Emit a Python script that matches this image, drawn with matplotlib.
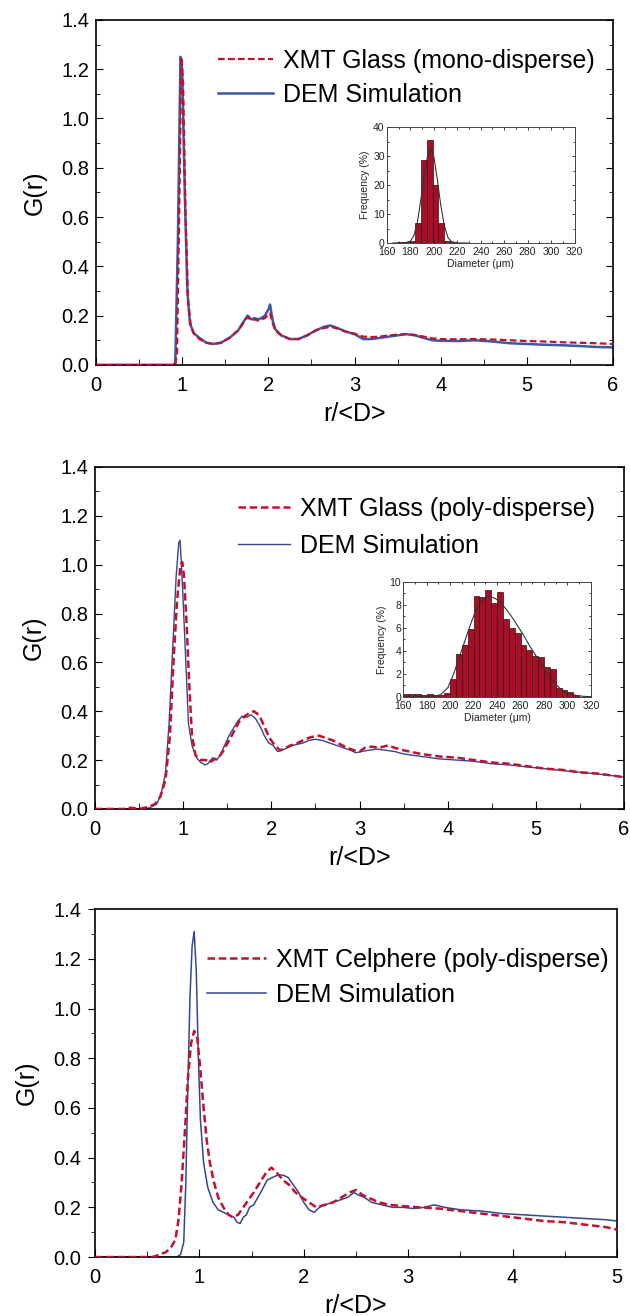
import numpy as np
import matplotlib
matplotlib.use("Agg")
from matplotlib import pyplot as plt
from matplotlib.ticker import MultipleLocator

plt.rcParams['font.family'] = ['Liberation Sans', 'DejaVu Sans']

# ---- data ----
# panel 1: mono-disperse glass
r1_dem = [0, 0.90, 0.92, 0.95, 0.98, 1.0, 1.03, 1.06, 1.09, 1.13, 1.2, 1.28, 1.36, 1.45, 1.55,
          1.65, 1.72, 1.76, 1.8, 1.84, 1.88, 1.92, 1.96, 2.0, 2.02, 2.05, 2.08, 2.15, 2.25, 2.35,
          2.45, 2.55, 2.65, 2.72, 2.8, 2.9, 3.0, 3.1, 3.2, 3.3, 3.4, 3.5, 3.6, 3.7, 3.8, 3.9,
          4.0, 4.2, 4.4, 4.6, 4.8, 5.0, 5.2, 5.4, 5.6, 5.8, 6.0]
g1_dem = [0, 0, 0.01, 0.5, 1.25, 1.2, 0.7, 0.3, 0.17, 0.13, 0.11, 0.09, 0.085, 0.09, 0.11,
          0.14, 0.18, 0.2, 0.185, 0.19, 0.185, 0.19, 0.2, 0.225, 0.245, 0.18, 0.145, 0.12, 0.105, 0.105,
          0.12, 0.14, 0.155, 0.16, 0.15, 0.135, 0.125, 0.105, 0.105, 0.11, 0.115, 0.12, 0.125, 0.12, 0.11, 0.1,
          0.098, 0.097, 0.1, 0.095, 0.088, 0.085, 0.082, 0.08, 0.077, 0.073, 0.071]
r1_xmt = [0, 0.92, 0.94, 0.965, 0.99, 1.01, 1.04, 1.07, 1.1, 1.14, 1.2, 1.28, 1.36, 1.45, 1.55,
          1.65, 1.72, 1.76, 1.8, 1.84, 1.88, 1.92, 1.96, 2.0, 2.02, 2.05, 2.08, 2.15, 2.25, 2.35,
          2.45, 2.55, 2.65, 2.72, 2.8, 2.9, 3.0, 3.1, 3.2, 3.3, 3.4, 3.5, 3.6, 3.7, 3.8, 3.9,
          4.0, 4.2, 4.4, 4.6, 4.8, 5.0, 5.2, 5.4, 5.6, 5.8, 6.0]
g1_xmt = [0, 0, 0.05, 0.6, 1.25, 1.15, 0.6, 0.25, 0.16, 0.125, 0.105, 0.09, 0.085, 0.09, 0.11,
          0.14, 0.175, 0.195, 0.18, 0.185, 0.18, 0.185, 0.19, 0.205, 0.21, 0.17, 0.14, 0.12, 0.105, 0.105,
          0.12, 0.14, 0.15, 0.155, 0.148, 0.135, 0.127, 0.115, 0.113, 0.115, 0.12, 0.123, 0.125, 0.122, 0.115, 0.108,
          0.105, 0.104, 0.105, 0.103, 0.1, 0.097, 0.095, 0.092, 0.09, 0.088, 0.085]

# panel 2: poly-disperse glass
r2_dem = [0, 0.55, 0.62, 0.7, 0.75, 0.8, 0.84, 0.88, 0.92, 0.95, 0.965, 0.98, 1.0, 1.03, 1.06, 1.1,
          1.15, 1.2, 1.25, 1.28, 1.31, 1.34, 1.38, 1.42, 1.47, 1.52, 1.57, 1.62, 1.67, 1.72, 1.77,
          1.82, 1.87, 1.92, 1.97, 2.02, 2.07, 2.12, 2.18, 2.24, 2.3, 2.36, 2.42, 2.5, 2.58, 2.66,
          2.74, 2.82, 2.9, 2.96, 3.02, 3.1, 3.2, 3.3, 3.4, 3.5, 3.7, 3.9, 4.1, 4.3, 4.5, 4.7,
          4.9, 5.1, 5.3, 5.5, 5.7, 5.9, 6.0]
g2_dem = [0, 0, 0.005, 0.02, 0.06, 0.15, 0.35, 0.65, 0.95, 1.09, 1.1, 1.0, 0.85, 0.6, 0.35, 0.26,
          0.21, 0.19, 0.18, 0.185, 0.2, 0.21, 0.2, 0.22, 0.26, 0.3, 0.33, 0.36, 0.38, 0.375, 0.385,
          0.37, 0.34, 0.3, 0.27, 0.26, 0.235, 0.24, 0.25, 0.26, 0.265, 0.27, 0.28, 0.285, 0.28, 0.27,
          0.26, 0.25, 0.24, 0.23, 0.235, 0.24, 0.245, 0.24, 0.235, 0.225, 0.215, 0.205, 0.2, 0.195, 0.185, 0.18,
          0.172, 0.165, 0.157, 0.15, 0.143, 0.135, 0.13]
r2_xmt = [0, 0.32, 0.4, 0.5, 0.6, 0.68, 0.74, 0.8, 0.85, 0.89, 0.93, 0.97, 0.99, 1.01, 1.04, 1.07,
          1.1, 1.14, 1.2, 1.26, 1.3, 1.34, 1.4, 1.46, 1.52, 1.58, 1.64, 1.7, 1.76, 1.8, 1.84,
          1.88, 1.93, 1.98, 2.04, 2.1, 2.16, 2.22, 2.3, 2.38, 2.46, 2.54, 2.62, 2.7, 2.78, 2.86,
          2.94, 3.0, 3.06, 3.14, 3.22, 3.32, 3.4, 3.5, 3.7, 3.9, 4.1, 4.3, 4.5, 4.7, 4.9,
          5.1, 5.3, 5.5, 5.7, 5.9, 6.0]
g2_xmt = [0, 0, 0.005, 0.0, 0.008, 0.02, 0.05, 0.12, 0.3, 0.6, 0.85, 1.0, 1.01, 0.95, 0.75, 0.5,
          0.3, 0.22, 0.2, 0.2, 0.19, 0.2, 0.21, 0.24, 0.28, 0.32, 0.36, 0.38, 0.395, 0.4, 0.39,
          0.37, 0.33, 0.29, 0.26, 0.24, 0.25, 0.26, 0.27, 0.285, 0.295, 0.3, 0.29, 0.28, 0.265, 0.25,
          0.24, 0.235, 0.25, 0.255, 0.25, 0.26, 0.25, 0.24, 0.225, 0.215, 0.21, 0.2, 0.19, 0.185, 0.175,
          0.165, 0.16, 0.15, 0.145, 0.135, 0.13]

# panel 3: poly-disperse celphere
r3_dem = [0, 0.78, 0.82, 0.85, 0.87, 0.89, 0.91, 0.93, 0.95, 0.97, 0.99, 1.01, 1.04, 1.08, 1.13,
          1.18, 1.23, 1.28, 1.33, 1.36, 1.39, 1.42, 1.45, 1.48, 1.52, 1.56, 1.6, 1.65, 1.7, 1.75,
          1.8, 1.85, 1.9, 1.95, 2.0, 2.05, 2.1, 2.15, 2.2, 2.28, 2.35, 2.42, 2.48, 2.52, 2.58,
          2.65, 2.75, 2.85, 2.95, 3.05, 3.15, 3.25, 3.35, 3.5, 3.7, 3.9, 4.1, 4.3, 4.5, 4.7, 4.9, 5.0]
g3_dem = [0, 0, 0.01, 0.06, 0.3, 0.7, 1.05, 1.25, 1.31, 1.15, 0.8, 0.55, 0.38, 0.28, 0.22,
          0.19, 0.18, 0.17, 0.16, 0.14, 0.135, 0.16, 0.17, 0.2, 0.21, 0.24, 0.27, 0.31, 0.32, 0.33,
          0.33, 0.32, 0.29, 0.26, 0.22, 0.19, 0.18, 0.2, 0.21, 0.22, 0.23, 0.24, 0.26, 0.25, 0.24,
          0.22, 0.21, 0.2, 0.2, 0.195, 0.2, 0.21, 0.2, 0.19, 0.185, 0.175, 0.17, 0.165, 0.16, 0.155, 0.15, 0.145]
r3_xmt = [0, 0.55, 0.62, 0.68, 0.73, 0.77, 0.8, 0.83, 0.86, 0.89, 0.92, 0.95, 0.98, 1.01, 1.04,
          1.07, 1.1, 1.14, 1.18, 1.23, 1.28, 1.32, 1.37, 1.42, 1.47, 1.52, 1.58, 1.64, 1.69, 1.74,
          1.8, 1.86, 1.92, 1.98, 2.05, 2.12, 2.2, 2.28, 2.36, 2.44, 2.5, 2.56, 2.64, 2.72, 2.82,
          2.95, 3.1, 3.3, 3.5, 3.7, 3.9, 4.1, 4.3, 4.5, 4.7, 4.9, 5.0]
g3_xmt = [0, 0, 0.01, 0.02, 0.04, 0.07, 0.15, 0.3, 0.5, 0.72, 0.86, 0.91, 0.88, 0.75, 0.6,
          0.47, 0.38, 0.3, 0.24, 0.2, 0.17, 0.16, 0.17, 0.2, 0.23, 0.26, 0.3, 0.34, 0.36, 0.34,
          0.31, 0.29, 0.26, 0.24, 0.22, 0.2, 0.21, 0.22, 0.24, 0.26, 0.27, 0.25, 0.235, 0.22, 0.21,
          0.205, 0.2, 0.195, 0.185, 0.175, 0.165, 0.155, 0.145, 0.14, 0.13, 0.12, 0.11]

# insets: particle size distributions
d1_bins = [171.5, 176.5, 181.5, 186.5, 191.5, 196.5, 201.5, 206.5, 211.5, 216.5]
f1_bins = [0.2, 0.3, 0.8, 7.0, 28.5, 35.5, 20.0, 7.0, 0.8, 0.2]
d1_fit = [165, 175, 180, 183, 186, 189, 192, 195, 197.5, 200, 203, 206, 209, 212, 215, 220, 230]
f1_fit = [0, 0.1, 0.6, 2.5, 7, 15, 24, 30.5, 32.5, 30, 22, 13, 6, 2, 0.5, 0.05, 0]

d2_bins = [162.5, 167.5, 172.5, 177.5, 182.5, 187.5, 192.5, 197.5, 202.5, 207.5, 212.5, 217.5,
           222.5, 227.5, 232.5, 237.5, 242.5, 247.5, 252.5, 257.5, 262.5, 267.5, 272.5, 277.5,
           282.5, 287.5, 292.5, 297.5, 302.5, 307.5]
f2_bins = [0.3, 0.3, 0.25, 0.2, 0.3, 0.15, 0.2, 0.35, 1.6, 3.7, 4.5, 5.9,
           8.8, 8.7, 9.3, 8.2, 9.1, 6.8, 6.0, 5.6, 4.5, 4.1, 3.6, 3.5,
           2.6, 2.4, 0.8, 0.6, 0.4, 0.2]
d2_fit = [160, 185, 192, 198, 203, 208, 213, 218, 223, 228, 233, 238, 243, 248, 253, 258, 263,
          268, 273, 278, 283, 288, 293, 298, 303, 308, 313, 320]
f2_fit = [0, 0.02, 0.2, 0.8, 2.0, 3.5, 5.0, 6.5, 7.8, 8.5, 8.7, 8.6, 8.2, 7.6, 6.9, 6.1, 5.3,
          4.4, 3.6, 2.8, 2.0, 1.3, 0.8, 0.45, 0.25, 0.12, 0.06, 0.02]

RED = '#c4102c'
BLUE = '#3a5aa6'
NAVY = '#34478f'
BAR = '#a80f26'

fig = plt.figure(figsize=(6.3, 13.16), dpi=100)


def style_main(ax, xmax, outward_y=False):
    ax.set_xlim(0, xmax)
    ax.set_ylim(0, 1.4)
    ax.xaxis.set_major_locator(MultipleLocator(1))
    ax.xaxis.set_minor_locator(MultipleLocator(0.5))
    ax.yaxis.set_minor_locator(MultipleLocator(0.1))
    ax.set_yticks(np.arange(0, 1.41, 0.2))
    ax.set_yticklabels(['%.1f' % v for v in np.arange(0, 1.41, 0.2)])
    ax.tick_params(axis='x', which='both', direction='in', top=False, labelsize=14.5, pad=8)
    ax.tick_params(axis='x', which='major', length=6)
    ax.tick_params(axis='x', which='minor', length=4)
    ydir = 'out' if outward_y else 'in'
    ax.tick_params(axis='y', which='both', direction=ydir, right=not outward_y, labelsize=14.5, pad=5)
    ax.tick_params(axis='y', which='major', length=5)
    ax.tick_params(axis='y', which='minor', length=3)
    for s in ax.spines.values():
        s.set_linewidth(1.2)
    ax.set_xlabel('r/<D>', fontsize=18, labelpad=5)
    ax.set_ylabel('G(r)', fontsize=18, labelpad=10)


def style_inset(ax, xlim, ylim, ymaj, ymin):
    ax.set_xlim(*xlim)
    ax.set_ylim(*ylim)
    ax.xaxis.set_major_locator(MultipleLocator(20))
    ax.xaxis.set_minor_locator(MultipleLocator(10))
    ax.yaxis.set_major_locator(MultipleLocator(ymaj))
    ax.yaxis.set_minor_locator(MultipleLocator(ymin))
    ax.tick_params(which='both', direction='in', top=True, right=True, labelsize=7.5, colors='#222222')
    ax.tick_params(axis='x', pad=3)
    ax.tick_params(axis='y', pad=1.5)
    ax.tick_params(which='major', length=2.5, width=0.6)
    ax.tick_params(which='minor', length=1.5, width=0.6)
    for s in ax.spines.values():
        s.set_linewidth(0.7)
        s.set_color('#444444')
    ax.set_xlabel('Diameter (\u03bcm)', fontsize=7.5, labelpad=1.5, color='#222222')
    ax.set_ylabel('Frequency (%)', fontsize=7.5, labelpad=2, color='#222222')


def legend(ax, anchor, handlelength, spacing):
    ax.legend(loc='upper left', bbox_to_anchor=anchor, frameon=False, fontsize=18,
              handlelength=handlelength, handletextpad=0.4, labelspacing=spacing,
              borderpad=0, borderaxespad=0)


# ---- panel 1 ----
ax1 = fig.add_axes([0.1524, 0.7227, 0.8206, 0.2622])
ax1.plot(r1_xmt, g1_xmt, color=RED, lw=1.6, dashes=(3, 1.5), label='XMT Glass (mono-disperse)', zorder=3)
ax1.plot(r1_dem, g1_dem, color=BLUE, lw=1.8, label='DEM Simulation', zorder=2)
style_main(ax1, 6)
legend(ax1, (0.236, 0.915), 2.2, 0.38)

in1 = fig.add_axes([0.614, 0.8153, 0.298, 0.0881])
in1.bar(d1_bins, f1_bins, width=5, color=BAR, edgecolor='#3a0a10', linewidth=0.5)
in1.plot(d1_fit, f1_fit, color='#333333', lw=0.8)
style_inset(in1, (160, 320), (0, 40), 10, 5)

# ---- panel 2 ----
ax2 = fig.add_axes([0.1508, 0.3853, 0.8397, 0.2599])
ax2.plot(r2_xmt, g2_xmt, color=RED, lw=1.8, dashes=(3, 1.5), label='XMT Glass (poly-disperse)', zorder=3)
ax2.plot(r2_dem, g2_dem, color=NAVY, lw=1.0, label='DEM Simulation', zorder=2)
style_main(ax2, 6)
legend(ax2, (0.270, 0.913), 2.1, 0.52)

in2 = fig.add_axes([0.640, 0.4704, 0.298, 0.0874])
in2.bar(d2_bins, f2_bins, width=5, color=BAR, edgecolor='#3a0a10', linewidth=0.5)
in2.plot(d2_fit, f2_fit, color='#333333', lw=0.8)
style_inset(in2, (160, 320), (0, 10), 2, 1)

# ---- panel 3 ----
ax3 = fig.add_axes([0.1508, 0.0448, 0.8286, 0.2644])
ax3.plot(r3_xmt, g3_xmt, color=RED, lw=1.8, dashes=(3, 1.5), label='XMT Celphere (poly-disperse)', zorder=3)
ax3.plot(r3_dem, g3_dem, color=NAVY, lw=1.1, label='DEM Simulation', zorder=2)
style_main(ax3, 5, outward_y=True)
legend(ax3, (0.2146, 0.889), 2.35, 0.46)

plt.savefig('out.png', dpi=100)
